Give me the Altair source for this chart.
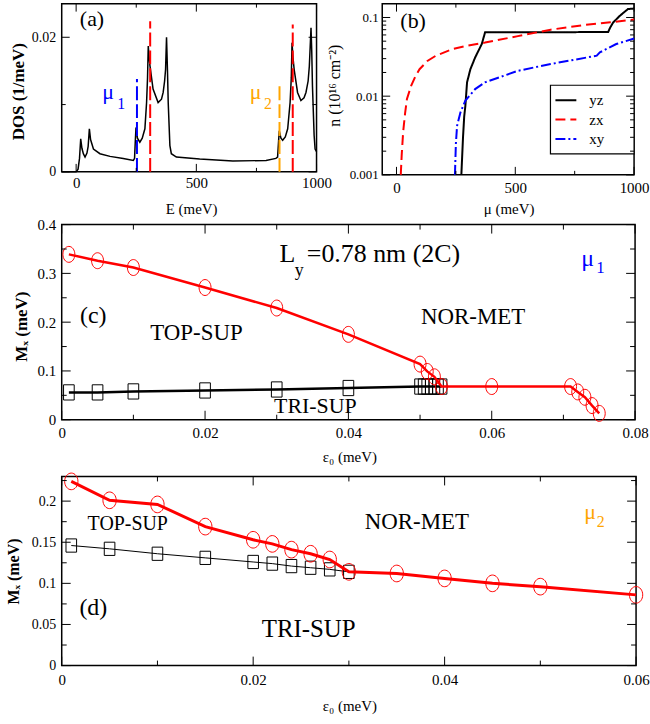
import altair as alt
import pandas as pd

FONT = "Liberation Serif"
RED, BLUE, ORANGE, BLACK = "#ff0000", "#0000ff", "#ffa500", "#000000"

# ---------------- data ----------------
# (a) density of states
DOS_E = [-60, 0, 8, 14, 19, 24, 30, 37, 45, 50, 55, 60, 72, 99, 141, 196, 238, 243, 246, 249,
         255, 265, 275, 286, 293, 297, 300, 303, 307, 320, 341, 355, 362, 368, 372, 376, 380, 383,
         390, 396, 417, 514, 652, 790, 831, 838, 842, 845, 848, 852, 859, 870, 880, 890, 895, 898,
         902, 907, 921, 935, 948, 956, 965, 970, 977, 980, 983, 990, 994, 1000]
DOS_V = [0, 0, 0.0004, 0.0020, 0.0049, 0.0035, 0.0027, 0.0022, 0.0028, 0.0038, 0.0064, 0.0048,
         0.0034, 0.0027, 0.0023, 0.0020, 0.0017, 0.0020, 0.0045, 0.0066, 0.0050, 0.0044, 0.0050,
         0.0064, 0.0103, 0.0140, 0.0187, 0.0172, 0.0158, 0.0123, 0.0103, 0.0108, 0.0118, 0.0135,
         0.0152, 0.0200, 0.0150, 0.0103, 0.0039, 0.0027, 0.0022, 0.0019, 0.0016, 0.0017, 0.0020,
         0.0022, 0.0045, 0.0061, 0.0056, 0.0050, 0.0047, 0.0052, 0.0064, 0.0103, 0.0140, 0.0192,
         0.0170, 0.0152, 0.0118, 0.0106, 0.0110, 0.0118, 0.0135, 0.0157, 0.0214, 0.0180, 0.0128,
         0.0054, 0.0034, 0.0030]
MU_E = [253, 308, 846, 901]
MU_BASE = [0, 0, 0, 0]
MU_TOP = [0.0138, 0.0224, 0.0131, 0.0219]

# (b) carrier densities
SERIES = ["yz", "zx", "xy"]
YZ_MU = [273, 280, 285, 290, 297, 311, 331, 359, 373, 500, 700, 891, 900, 912, 940, 974, 1000]
YZ_N = [0.001, 0.003, 0.0055, 0.0076, 0.015, 0.022, 0.031, 0.046, 0.065, 0.065, 0.065, 0.0655,
        0.075, 0.0865, 0.105, 0.128, 0.13]
ZX_MU = [18, 22, 28, 36, 44, 62, 80, 97, 130, 166, 235, 300, 373, 511, 649, 787, 900, 1000]
ZX_N = [0.001, 0.0018, 0.0035, 0.006, 0.0092, 0.0136, 0.018, 0.022, 0.028, 0.0327, 0.0397,
        0.044, 0.048, 0.058, 0.070, 0.080, 0.087, 0.094]
XY_MU = [246, 250, 255, 269, 290, 331, 373, 511, 649, 843, 856, 925, 1000]
XY_N = [0.001, 0.0025, 0.0042, 0.0062, 0.0088, 0.0123, 0.015, 0.021, 0.0256, 0.0327, 0.036,
        0.046, 0.054]

# (c) phase diagram at mu1
C_RED_X = [0.001, 0.005, 0.01, 0.02, 0.03, 0.04, 0.05, 0.051, 0.052, 0.053, 0.06, 0.071, 0.072,
           0.073, 0.074, 0.075]
C_RED_Y = [0.339, 0.326, 0.312, 0.271, 0.229, 0.175, 0.114, 0.099, 0.088, 0.068, 0.068, 0.068,
           0.057, 0.046, 0.029, 0.013]
C_BLK_X = [0.001, 0.005, 0.01, 0.02, 0.03, 0.04, 0.05, 0.0505, 0.051, 0.0515, 0.052, 0.0525, 0.053]
C_BLK_Y = [0.056, 0.056, 0.058, 0.060, 0.062, 0.065, 0.068, 0.068, 0.068, 0.068, 0.068, 0.068, 0.068]

# (d) phase diagram at mu2
D_RED_X = [0.001, 0.005, 0.01, 0.015, 0.02, 0.022, 0.024, 0.026, 0.028, 0.03, 0.035, 0.04, 0.045,
           0.05, 0.06]
D_RED_Y = [0.224, 0.201, 0.196, 0.169, 0.153, 0.148, 0.141, 0.136, 0.129, 0.114, 0.112, 0.106,
           0.100, 0.096, 0.086]
D_BLK_X = [0.001, 0.005, 0.01, 0.015, 0.02, 0.022, 0.024, 0.026, 0.028, 0.03]
D_BLK_Y = [0.146, 0.142, 0.136, 0.131, 0.126, 0.124, 0.121, 0.119, 0.117, 0.114]

# annotation texts (data coordinates)
A_TXT = ["(a)", "μ", "1", "μ", "2"]
A_TXT_X = [66, 108.5, 170.6, 722.6, 781.8]
A_TXT_Y = [0.0227, 0.0118, 0.0101, 0.0118, 0.0101]
B_TXT = ["(b)"]
B_TXT_X = [70]
B_TXT_Y = [0.090]
C_TXT = ["(c)", "TOP-SUP", "NOR-MET", "TRI-SUP", "μ", "1"]
C_TXT_X = [0.0044, 0.0188, 0.0574, 0.0354, 0.0725, 0.0746]
C_TXT_Y = [0.212, 0.178, 0.210, 0.0285, 0.33, 0.31]
C_TITLE = ["L", "y", "=0.78 nm (2C)"]
C_TITLE_X = [0.0304, 0.0325, 0.0342]
C_TITLE_Y = [0.324, 0.295, 0.324]
D_TXT = ["(d)", "TOP-SUP", "NOR-MET", "TRI-SUP", "μ", "2"]
D_TXT_X = [0.0033, 0.0069, 0.0371, 0.0258, 0.0546, 0.0559]
D_TXT_Y = [0.070, 0.172, 0.174, 0.045, 0.187, 0.175]

ELL_C = "M -0.75 0 A 0.75 1 0 1 1 0.75 0 A 0.75 1 0 1 1 -0.75 0 Z"
ELL_D = "M -0.8 0 A 0.8 1 0 1 1 0.8 0 A 0.8 1 0 1 1 -0.8 0 Z"
SQ_C = "M -0.7 -1 L 0.7 -1 L 0.7 1 L -0.7 1 Z"
SQ_D = "M -0.8 -1 L 0.8 -1 L 0.8 1 L -0.8 1 Z"


def xaxis(title, values, tx, ty, lfs=15, pad=5):
    return alt.Axis(title=title, values=values, format="~r", ticks=False, tickSize=0, domain=False,
                    grid=False, labelFont=FONT, labelFontSize=lfs, labelPadding=pad,
                    labelColor=BLACK, labelFlush=False, labelOverlap=False, titleFont=FONT,
                    titleFontSize=15, titleFontWeight="normal", titleColor=BLACK, titleX=tx,
                    titleY=ty, titleBaseline="middle", titleAlign="center", titleAngle=0)


def yaxis(title, values, tx, ty, lfs=14, pad=6, tfs=17, bold=True):
    return alt.Axis(title=title, values=values, format="~r", ticks=False, tickSize=0, domain=False,
                    grid=False, labelFont=FONT, labelFontSize=lfs, labelPadding=pad,
                    labelColor=BLACK, labelFlush=False, labelOverlap=False, titleFont=FONT,
                    titleFontSize=tfs, titleFontWeight="bold" if bold else "normal",
                    titleColor=BLACK, titleX=tx, titleY=ty, titleBaseline="middle",
                    titleAlign="center", titleAngle=270)


class Panel:
    def __init__(self, xs, ys, ax, ay):
        self.xs, self.ys, self.ax, self.ay = xs, ys, ax, ay

    def X(self, f):
        return alt.X(f, scale=self.xs, axis=self.ax)

    def Y(self, f):
        return alt.Y(f, scale=self.ys, axis=self.ay)

    def ticks(self, W, H, xmaj, xmin, ymaj, ymin, lmaj=9, lmin=5):
        out = []

        def rl(vals):
            return alt.Chart(pd.DataFrame({"t": vals})).mark_rule(color=BLACK, strokeWidth=1)

        for vals, L in ((xmaj, lmaj), (xmin, lmin)):
            if vals:
                out.append(rl(vals).encode(x=self.X("t:Q"), y=alt.value(H), y2=alt.value(H - L)))
                out.append(rl(vals).encode(x=self.X("t:Q"), y=alt.value(0), y2=alt.value(L)))
        for vals, L in ((ymaj, lmaj), (ymin, lmin)):
            if vals:
                out.append(rl(vals).encode(y=self.Y("t:Q"), x=alt.value(0), x2=alt.value(L)))
                out.append(rl(vals).encode(y=self.Y("t:Q"), x=alt.value(W), x2=alt.value(W - L)))
        return out

    def text(self, t, x, y, size, color=BLACK, align="center", baseline="middle"):
        df = pd.DataFrame({"x": [x], "y": [y], "t": [t]})
        return alt.Chart(df).mark_text(font=FONT, fontSize=size, color=color, align=align,
                                       baseline=baseline).encode(
            x=self.X("x:Q"), y=self.Y("y:Q"), text="t:N")


# ---------------- panel (a) ----------------
WA, HA = 256, 169
pa = Panel(alt.Scale(domain=[-60, 1000], nice=False, zero=False),
           alt.Scale(domain=[0, 0.025], nice=False, zero=False),
           xaxis("E (meV)", [0, 500, 1000], 130, 37, 15, 4),
           yaxis("DOS (1/meV)", [0, 0.02], -43.5, 88, 14, 6, 17, True))
a_line = alt.Chart(pd.DataFrame({"E": DOS_E, "D": DOS_V})).mark_line(
    color=BLACK, strokeWidth=1.5).encode(x=pa.X("E:Q"), y=pa.Y("D:Q"))
a_mu = []
for e, b0, top, col in zip(MU_E, MU_BASE, MU_TOP, [BLUE, RED, ORANGE, RED]):
    a_mu.append(alt.Chart(pd.DataFrame({"E": [e], "b": [b0], "top": [top]})).mark_rule(
        strokeWidth=2, strokeDash=[14, 4], color=col).encode(
        x=pa.X("E:Q"), y=pa.Y("b:Q"), y2="top:Q"))
a_styles = [(22, BLACK, "center"), (22, BLUE, "left"), (16, BLUE, "left"),
            (22, ORANGE, "left"), (16, ORANGE, "left")]
a_txt = [pa.text(t, x, y, s[0], s[1], s[2]) for t, x, y, s in zip(A_TXT, A_TXT_X, A_TXT_Y, a_styles)]
panel_a = alt.layer(a_line, *a_mu, *a_txt,
                    *pa.ticks(WA, HA, [0, 500, 1000], [250, 750], [0, 0.02], [0.01], 8, 4)
                    ).properties(width=WA, height=HA)

# ---------------- panel (b) ----------------
WB, HB = 253, 172
pb = Panel(alt.Scale(domain=[-60, 1000], nice=False, zero=False),
           alt.Scale(type="log", domain=[0.001, 0.15], nice=False),
           xaxis("μ (meV)", [0, 500, 1000], 127, 34, 15, 6),
           yaxis("n (10¹⁶ cm⁻²)", [0.001, 0.01, 0.1], -48, 82, 13, 4, 16, False))
DASHES = [[1, 0], [10, 5], [10, 3, 2, 3]]
B_COLORS = [BLACK, RED, BLUE]
b_lines = []
for mus, ns, col, dash in zip([YZ_MU, ZX_MU, XY_MU], [YZ_N, ZX_N, XY_N], B_COLORS, DASHES):
    b_lines.append(alt.Chart(pd.DataFrame({"mu": mus, "n": ns})).mark_line(
        strokeWidth=2, color=col, strokeDash=dash).encode(x=pb.X("mu:Q"), y=pb.Y("n:Q")))
leg_box = alt.Chart(pd.DataFrame({"k": [0]})).mark_rect(
    fill="white", stroke=BLACK, strokeWidth=1.2).encode(
    x=alt.value(169), x2=alt.value(253), y=alt.value(82), y2=alt.value(151))
leg_layers = [leg_box]
for i, (name, col, dash) in enumerate(zip(SERIES, B_COLORS, DASHES)):
    yy = 97 + 19.5 * i
    leg_layers.append(alt.Chart(pd.DataFrame({"s": [name]})).mark_rule(
        color=col, strokeWidth=2, strokeDash=dash).encode(
        x=alt.value(174), x2=alt.value(195), y=alt.value(yy)))
    leg_layers.append(alt.Chart(pd.DataFrame({"s": [name]})).mark_text(
        font=FONT, fontSize=15, align="left", baseline="middle", color=BLACK).encode(
        x=alt.value(208), y=alt.value(yy), text="s:N"))
b_txt = [pb.text(t, x, y, 22) for t, x, y in zip(B_TXT, B_TXT_X, B_TXT_Y)]
b_minor = [k * 10.0 ** e for e in (-3, -2) for k in range(2, 10)]
panel_b = alt.layer(*b_lines, *leg_layers, *b_txt,
                    *pb.ticks(WB, HB, [0, 500, 1000], [250, 750], [0.001, 0.01, 0.1], b_minor, 8, 4)
                    ).properties(width=WB, height=HB)

# ---------------- panel (c) ----------------
WC, HC = 576, 196
pc = Panel(alt.Scale(domain=[0, 0.08], nice=False, zero=False),
           alt.Scale(domain=[0, 0.4], nice=False, zero=False),
           xaxis("ε₀ (meV)", [0, 0.02, 0.04, 0.06, 0.08], 289, 37, 15, 6),
           yaxis("Mₓ (meV)", [0, 0.1, 0.2, 0.3, 0.4], -40, 102, 15, 6, 17, True))
c_blk_df = pd.DataFrame({"x": C_BLK_X, "y": C_BLK_Y})
c_red_df = pd.DataFrame({"x": C_RED_X, "y": C_RED_Y})
c_blk_line = alt.Chart(c_blk_df).mark_line(color=BLACK, strokeWidth=2.5).encode(
    x=pc.X("x:Q"), y=pc.Y("y:Q"))
c_blk_pts = alt.Chart(c_blk_df).mark_point(shape=SQ_C, size=234, filled=False, color=BLACK,
                                           strokeWidth=1, opacity=1).encode(
    x=pc.X("x:Q"), y=pc.Y("y:Q"))
c_red_line = alt.Chart(c_red_df).mark_line(color=RED, strokeWidth=2.5).encode(
    x=pc.X("x:Q"), y=pc.Y("y:Q"))
c_red_pts = alt.Chart(c_red_df).mark_point(shape=ELL_C, size=256, filled=False, color=RED,
                                           strokeWidth=1, opacity=1).encode(
    x=pc.X("x:Q"), y=pc.Y("y:Q"))
c_styles = [(24, BLACK, "center"), (23, BLACK, "center"), (23, BLACK, "center"),
            (22, BLACK, "center"), (24, BLUE, "left"), (17, BLUE, "left")]
c_txt = [pc.text(t, x, y, s[0], s[1], s[2]) for t, x, y, s in zip(C_TXT, C_TXT_X, C_TXT_Y, c_styles)]
c_title_sizes = [26, 18, 26]
c_title = [pc.text(t, x, y, s, BLACK, "left", "alphabetic")
           for t, x, y, s in zip(C_TITLE, C_TITLE_X, C_TITLE_Y, c_title_sizes)]
panel_c = alt.layer(c_blk_line, c_blk_pts, c_red_line, c_red_pts, *c_txt, *c_title,
                    *pc.ticks(WC, HC, [0, 0.02, 0.04, 0.06, 0.08], [0.01, 0.03, 0.05, 0.07],
                              [0, 0.1, 0.2, 0.3, 0.4], [0.05, 0.15, 0.25, 0.35], 9, 5)
                    ).properties(width=WC, height=HC)

# ---------------- panel (d) ----------------
WD, HD = 577, 190
pd_ = Panel(alt.Scale(domain=[0, 0.06], nice=False, zero=False),
            alt.Scale(domain=[0, 0.23], nice=False, zero=False),
            xaxis("ε₀ (meV)", [0, 0.02, 0.04, 0.06], 289, 40, 15, 7),
            yaxis("Mₓ (meV)", [0, 0.05, 0.1, 0.15, 0.2], -48, 95, 14, 6, 16, True))
d_blk_df = pd.DataFrame({"x": D_BLK_X, "y": D_BLK_Y})
d_red_df = pd.DataFrame({"x": D_RED_X, "y": D_RED_Y})
d_blk_line = alt.Chart(d_blk_df).mark_line(color=BLACK, strokeWidth=1).encode(
    x=pd_.X("x:Q"), y=pd_.Y("y:Q"))
d_blk_pts = alt.Chart(d_blk_df).mark_point(shape=SQ_D, size=177, filled=False, color=BLACK,
                                           strokeWidth=1, opacity=1).encode(
    x=pd_.X("x:Q"), y=pd_.Y("y:Q"))
d_red_line = alt.Chart(d_red_df).mark_line(color=RED, strokeWidth=3).encode(
    x=pd_.X("x:Q"), y=pd_.Y("y:Q"))
d_red_pts = alt.Chart(d_red_df).mark_point(shape=ELL_D, size=279, filled=False, color=RED,
                                           strokeWidth=1, opacity=1).encode(
    x=pd_.X("x:Q"), y=pd_.Y("y:Q"))
d_styles = [(24, BLACK, "center"), (20, BLACK, "center"), (23, BLACK, "center"),
            (25, BLACK, "center"), (22, ORANGE, "left"), (16, ORANGE, "left")]
d_txt = [pd_.text(t, x, y, s[0], s[1], s[2]) for t, x, y, s in zip(D_TXT, D_TXT_X, D_TXT_Y, d_styles)]
panel_d = alt.layer(d_blk_line, d_blk_pts, d_red_line, d_red_pts, *d_txt,
                    *pd_.ticks(WD, HD, [0, 0.02, 0.04, 0.06], [0.01, 0.03, 0.05],
                               [0, 0.05, 0.1, 0.15, 0.2], [0.025, 0.075, 0.125, 0.175, 0.225], 9, 5)
                    ).properties(width=WD, height=HD)

# ---------------- layout ----------------
row1 = alt.hconcat(panel_a, panel_b, spacing=66, bounds="flush")
rows_cd = alt.vconcat(panel_c, panel_d, spacing=57, bounds="flush")
chart = alt.vconcat(row1, rows_cd, spacing=222, bounds="flush").properties(
    padding={"left": 5, "top": 0, "right": 0, "bottom": 0}, background="white"
).configure_view(stroke=BLACK, strokeWidth=1.5).configure_axis(grid=False)

chart.save("out.html", embed_options={"renderer": "svg", "actions": False})
